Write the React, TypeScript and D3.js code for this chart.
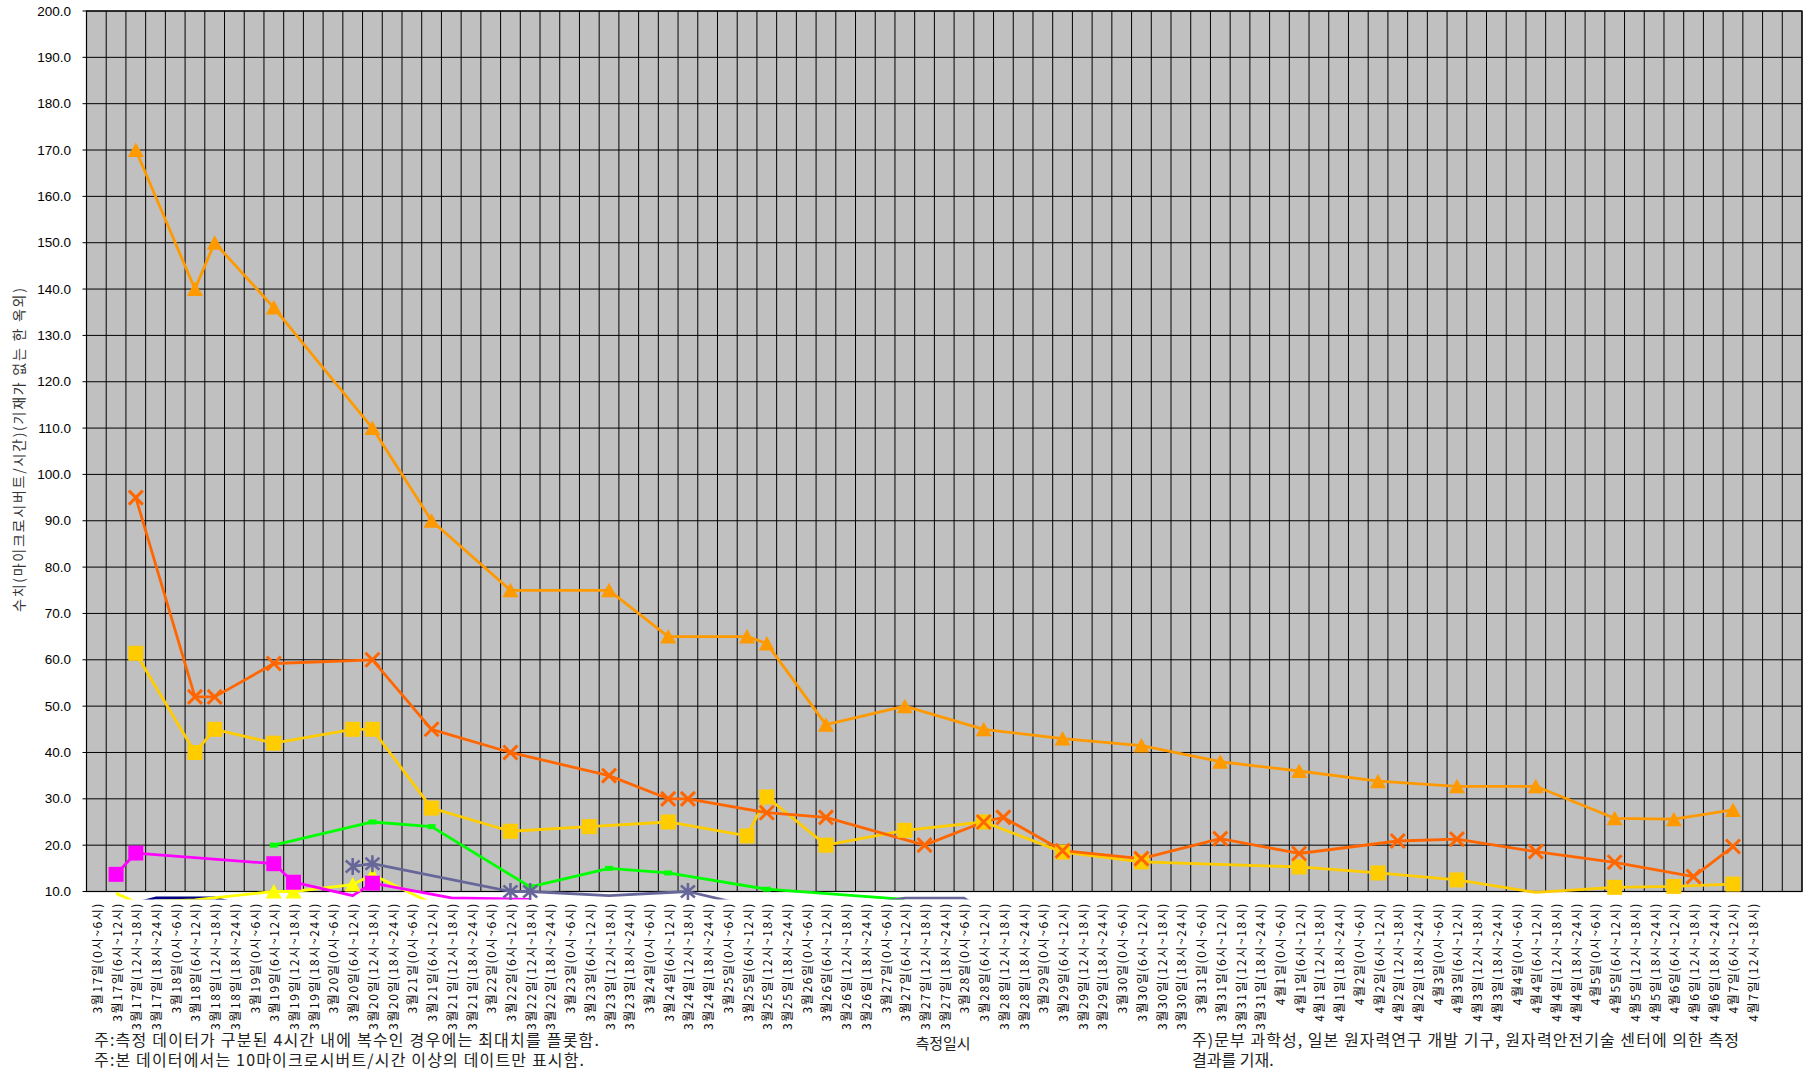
import React from 'react';
import * as d3 from 'd3';

const W = 1803;
const H = 1073;

// ---- category axis (6-hour slots); two empty slots follow the last label ----
const dates = [
  '3월17일', '3월18일', '3월19일', '3월20일', '3월21일', '3월22일', '3월23일', '3월24일',
  '3월25일', '3월26일', '3월27일', '3월28일', '3월29일', '3월30일', '3월31일',
  '4월1일', '4월2일', '4월3일', '4월4일', '4월5일', '4월6일', '4월7일',
];
const slots = ['0시~6시', '6시~12시', '12시~18시', '18시~24시'];
const skippedLabels = ['4월6일(0시~6시)', '4월7일(0시~6시)', '4월7일(18시~24시)'];
const categoryLabels = dates
  .flatMap((d) => slots.map((s) => `${d}(${s})`))
  .filter((c) => !skippedLabels.includes(c));
const emptyTrailing = 2;

const yTicks = [10, 20, 30, 40, 50, 60, 70, 80, 90, 100, 110, 120, 130, 140, 150, 160, 170, 180, 190, 200];

// ---- series: [category index, value] ----
const orangeTriangle: [number, number][] = [
  [2, 170], [5, 140], [6, 150], [9, 136], [14, 110], [17, 90], [21, 75], [26, 75], [29, 65],
  [33, 65], [34, 63.5], [37, 46], [41, 50], [45, 45], [49, 43], [53, 41.5], [57, 38], [61, 36],
  [65, 33.8], [69, 32.7], [73, 32.7], [77, 25.8], [80, 25.6], [83, 27.6],
];
const redCross: [number, number][] = [
  [2, 95], [5, 52], [6, 52], [9, 59.2], [14, 60], [17, 45], [21, 40], [26, 35], [29, 30],
  [30, 30], [34, 27], [37, 26], [42, 20], [45, 25], [46, 26], [49, 18.8], [53, 17.1],
  [57, 21.4], [61, 18.2], [66, 20.9], [69, 21.3], [73, 18.6], [77, 16.3], [81, 13.2], [83, 19.7],
];
const goldSquare: [number, number][] = [
  [2, 61.4], [5, 40], [6, 45], [9, 42], [13, 45], [14, 45], [17, 28], [21, 23], [25, 24],
  [29, 25], [33, 22], [34, 30.4], [37, 20], [41, 23.2], [45, 25], [49, 18.5], [53, 16.4],
  [61, 15.3], [65, 14], [69, 12.5], [73, 9.8], [77, 10.9], [80, 11.1], [83, 11.6],
];
const magentaSquare: [number, number][] = [
  [1, 13.7], [2, 18.3], [9, 16], [10, 12], [13, 9.1], [14, 11.8], [18, 8.6], [22, 8.3],
];
const greenRect: [number, number][] = [
  [9, 20], [14, 25], [17, 24], [22, 11], [26, 15], [29, 14], [34, 10.5], [41, 8.3],
];
const slateStar: [number, number][] = [
  [13, 15.4], [14, 16], [21, 10], [22, 10], [26, 9.1], [30, 10], [33, 7.0], [37, 6.0],
  [41, 8.55], [44, 8.55], [45, 6.0],
];
const yellowTriangle: [number, number][] = [
  [1, 9.6], [2, 7.7], [5, 8.2], [9, 10], [10, 10], [13, 11.5], [14, 13.6], [17, 7.5],
];
const navyLine: [number, number][] = [[2, 7.5], [3, 8.6], [6, 8.6], [7, 7.5]];

type Marker = 'triangle' | 'square' | 'cross' | 'star' | 'smallrect' | 'none';
const seriesList: { name: string; data: [number, number][]; color: string; marker: Marker }[] = [
  { name: 'navy', data: navyLine, color: '#000080', marker: 'none' },
  { name: 'yellow', data: yellowTriangle, color: '#FFFF00', marker: 'triangle' },
  { name: 'green', data: greenRect, color: '#00FF00', marker: 'smallrect' },
  { name: 'magenta', data: magentaSquare, color: '#FF00FF', marker: 'square' },
  { name: 'slate', data: slateStar, color: '#666699', marker: 'star' },
  { name: 'gold', data: goldSquare, color: '#FFCC00', marker: 'square' },
  { name: 'red', data: redCross, color: '#FF6600', marker: 'cross' },
  { name: 'orange', data: orangeTriangle, color: '#FF9900', marker: 'triangle' },
];

const L = 86.5;
const R = 1802;
const T = 11;
const B = 891.5;
const CLIP_BOTTOM = 899.5;

const KR = '"Noto Sans CJK KR", "Noto Sans", sans-serif';

function drawMarker(kind: Marker, x: number, y: number, color: string, key: string) {
  switch (kind) {
    case 'triangle':
      return <path key={key} d={`M${x},${y - 7.5}L${x + 8},${y + 7}L${x - 8},${y + 7}Z`} fill={color} />;
    case 'square':
      return <rect key={key} x={x - 7.5} y={y - 7.5} width={15} height={15} fill={color} />;
    case 'smallrect':
      return <rect key={key} x={x - 4} y={y - 2.5} width={8} height={5} fill={color} />;
    case 'cross':
      return (
        <path key={key} d={`M${x - 7},${y - 7}L${x + 7},${y + 7}M${x - 7},${y + 7}L${x + 7},${y - 7}`}
          stroke={color} strokeWidth={3} fill="none" />
      );
    case 'star':
      return (
        <path key={key}
          d={`M${x - 7},${y - 6}L${x + 7},${y + 6}M${x - 7},${y + 6}L${x + 7},${y - 6}M${x},${y - 8.5}L${x},${y + 8.5}`}
          stroke={color} strokeWidth={2.6} fill="none" />
      );
    default:
      return null;
  }
}

export default function App() {
  const nCat = categoryLabels.length + emptyTrailing;
  const x = d3.scaleBand<number>().domain(d3.range(nCat)).range([L, R]).padding(0);
  const bw = x.bandwidth();
  const cx = (i: number) => (x(i) as number) + bw / 2;
  const y = d3.scaleLinear().domain([10, 200]).range([B, T]);

  const line = d3
    .line<[number, number]>()
    .x((d) => cx(d[0]))
    .y((d) => y(d[1]));

  return (
    <>
      <style>{`body{margin:0;}`}</style>
      <svg width={W} height={H} style={{ display: 'block', background: '#fff' }}>
        <defs>
          <clipPath id="lineClip">
            <rect x={L} y={T} width={R - L} height={CLIP_BOTTOM - T} />
          </clipPath>
        </defs>

        {/* plot background */}
        <rect x={L} y={T} width={R - L} height={B - T} fill="#C0C0C0" />

        {/* horizontal gridlines + y ticks */}
        {yTicks.map((t) => (
          <line key={`h${t}`} x1={L - 4} x2={R} y1={y(t)} y2={y(t)} stroke="#000" strokeWidth={1} />
        ))}
        {/* vertical gridlines */}
        {d3.range(nCat + 1).map((i) => (
          <line key={`v${i}`} x1={L + i * bw} x2={L + i * bw} y1={T} y2={B} stroke="#000" strokeWidth={1} />
        ))}
        <rect x={L} y={T} width={R - L} height={B - T} fill="none" stroke="#000" strokeWidth={1.2} />

        {/* y tick labels */}
        {yTicks.map((t) => (
          <text key={`yl${t}`} x={71} y={y(t)} textAnchor="end" dominantBaseline="central"
            fontFamily='"Liberation Sans", Arial, sans-serif' fontSize={13.5} fill="#000">
            {t.toFixed(1)}
          </text>
        ))}

        {/* y axis title */}
        <text transform="translate(18,450) rotate(-90)" textAnchor="middle" dominantBaseline="central"
          fontFamily={KR} fontSize={14} fill="#333" textLength={324} lengthAdjust="spacing">
          수치(마이크로시버트/시간)(기재가 없는 한 옥외)
        </text>

        {/* x category labels */}
        {categoryLabels.map((c, i) => (
          <text key={`xl${i}`} transform={`translate(${cx(i)},902) rotate(-90)`} textAnchor="end"
            dominantBaseline="central" fontFamily={KR} fontSize={12} letterSpacing={1.6} fill="#000">
            {c}
          </text>
        ))}

        {/* series lines */}
        <g clipPath="url(#lineClip)">
          {seriesList.map((s) => (
            <path key={`ln${s.name}`} d={line(s.data) || ''} fill="none" stroke={s.color}
              strokeWidth={2.8} strokeLinejoin="round" strokeLinecap="butt" />
          ))}
        </g>

        {/* markers */}
        {seriesList.map((s) => (
          <g key={`mk${s.name}`}>
            {s.data
              .filter((d) => d[1] >= 9.95)
              .map((d, k) => drawMarker(s.marker, cx(d[0]), y(d[1]), s.color, `${s.name}${k}`))}
          </g>
        ))}

        {/* notes */}
        <text x={94} y={1046} fontFamily={KR} fontSize={16} fill="#222" textLength={505} lengthAdjust="spacing">
          주:측정 데이터가 구분된 4시간 내에 복수인 경우에는 최대치를 플롯함.
        </text>
        <text x={94} y={1066} fontFamily={KR} fontSize={16} fill="#222" textLength={490} lengthAdjust="spacing">
          주:본 데이터에서는 10마이크로시버트/시간 이상의 데이트만 표시함.
        </text>
        <text x={943} y={1049} textAnchor="middle" fontFamily={KR} fontSize={15} fill="#222">
          측정일시
        </text>
        <text x={1192} y={1046} fontFamily={KR} fontSize={16} fill="#222" textLength={547} lengthAdjust="spacing">
          주)문부 과학성, 일본 원자력연구 개발 기구, 원자력안전기술 센터에 의한 측정
        </text>
        <text x={1192} y={1066} fontFamily={KR} fontSize={16} fill="#222">
          결과를 기재.
        </text>
      </svg>
    </>
  );
}
